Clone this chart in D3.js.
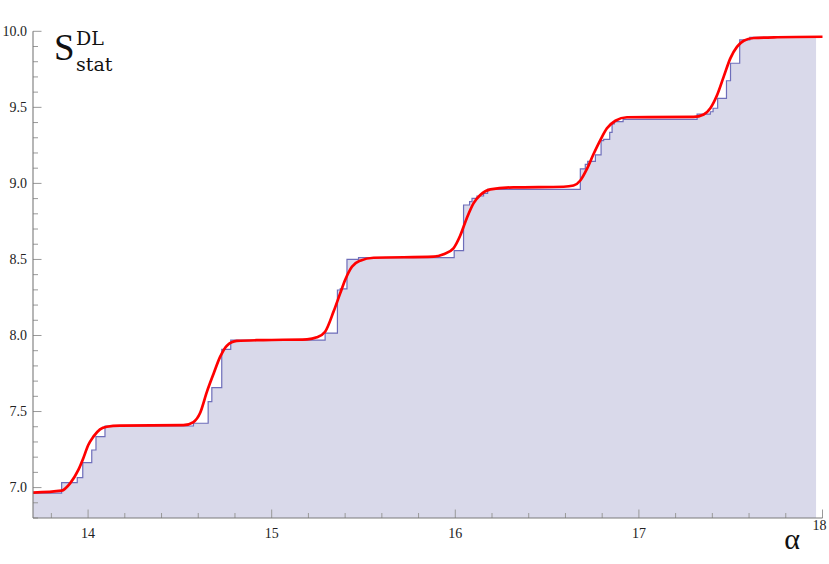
<!DOCTYPE html>
<html>
<head>
<meta charset="utf-8">
<script src="https://cdn.jsdelivr.net/npm/d3@7"></script>
<style>
  html, body { margin: 0; padding: 0; background: #ffffff; }
  svg { display: block; }
</style>
</head>
<body>
<svg id="chart" width="829" height="564"></svg>
<script>
// ---- Data ----
// Step function (stepped, filled): value holds from this alpha onward
const stepAlpha = [13.700, 13.856, 13.941, 13.971, 14.020, 14.043, 14.092, 14.574, 14.654, 14.674,
                   14.728, 14.777, 15.291, 15.358, 15.373, 15.410, 15.473, 15.994, 16.045, 16.078,
                   16.091, 16.118, 16.154, 16.176, 16.681, 16.708, 16.721, 16.763, 16.794, 16.808,
                   16.841, 16.854, 16.866, 16.914, 17.317, 17.389, 17.404, 17.429, 17.477, 17.499,
                   17.549, 17.604, 17.965];
const stepS     = [6.963, 7.032, 7.065, 7.164, 7.247, 7.335, 7.405, 7.423, 7.565, 7.657,
                   7.909, 7.970, 8.016, 8.299, 8.306, 8.501, 8.512, 8.558, 8.858, 8.880,
                   8.902, 8.917, 8.935, 8.961, 9.096, 9.125, 9.145, 9.187, 9.281, 9.290,
                   9.336, 9.391, 9.406, 9.421, 9.456, 9.471, 9.494, 9.559, 9.675, 9.790,
                   9.943, 9.961, 9.961];

// Smooth red curve
const curveAlpha = [13.700, 13.856, 13.902, 13.947, 13.974, 14.001, 14.029, 14.065, 14.102, 14.174,
                    14.519, 14.574, 14.610, 14.647, 14.683, 14.719, 14.756, 14.810, 14.955, 15.192,
                    15.246, 15.291, 15.337, 15.373, 15.400, 15.437, 15.482, 15.555, 15.882, 15.936,
                    15.990, 16.027, 16.063, 16.099, 16.136, 16.191, 16.317, 16.590, 16.644, 16.681,
                    16.717, 16.753, 16.790, 16.826, 16.872, 16.935, 17.298, 17.353, 17.389, 17.426,
                    17.462, 17.498, 17.535, 17.571, 17.625, 17.753, 18.000];
const curveS     = [6.967, 6.980, 7.028, 7.116, 7.193, 7.280, 7.335, 7.383, 7.400, 7.407,
                    7.410, 7.431, 7.490, 7.629, 7.747, 7.859, 7.933, 7.964, 7.970, 7.975,
                    7.988, 8.025, 8.157, 8.277, 8.365, 8.452, 8.492, 8.511, 8.518, 8.534,
                    8.573, 8.657, 8.773, 8.869, 8.924, 8.961, 8.974, 8.978, 8.986, 9.019,
                    9.095, 9.193, 9.285, 9.362, 9.412, 9.435, 9.437, 9.453, 9.494, 9.581,
                    9.702, 9.822, 9.899, 9.938, 9.956, 9.961, 9.964];

const xMajorTicks = [14, 15, 16, 17, 18];
const xMinorTicks = [13.8, 14.2, 14.4, 14.6, 14.8, 15.2, 15.4, 15.6, 15.8, 16.2, 16.4, 16.6, 16.8,
                     17.2, 17.4, 17.6, 17.8];
const yMajorTicks = [7.0, 7.5, 8.0, 8.5, 9.0, 9.5, 10.0];
const yMinorTicks = [6.8, 6.9, 7.1, 7.2, 7.3, 7.4, 7.6, 7.7, 7.8, 7.9, 8.1, 8.2, 8.3, 8.4,
                     8.6, 8.7, 8.8, 8.9, 9.1, 9.2, 9.3, 9.4, 9.6, 9.7, 9.8, 9.9];

// ---- Layout ----
const svg = d3.select("#chart");
const x = d3.scaleLinear().domain([13.7, 18]).range([33, 822.5]);
const y = d3.scaleLinear().domain([6.8, 10]).range([518, 31.3]);

const stepData = stepAlpha.map((a, i) => ({a, s: stepS[i]}));
const curveData = curveAlpha.map((a, i) => ({a, s: curveS[i]}));

// Filled step area
svg.append("path")
  .datum(stepData)
  .attr("fill", "#d9d9ea")
  .attr("stroke", "none")
  .attr("d", d3.area().curve(d3.curveStepAfter)
    .x(d => x(d.a)).y0(y(6.8)).y1(d => y(d.s)));

// Axis ticks (drawn over fill, inward)
const axisColor = "#7a7a7a";
const tickColor = "#999999";
const g = svg.append("g");

g.selectAll(".xmaj").data(xMajorTicks).enter().append("line")
  .attr("x1", d => x(d)).attr("x2", d => x(d))
  .attr("y1", y(6.8)).attr("y2", y(6.8) - 8.5)
  .attr("stroke", tickColor).attr("stroke-width", 1);
g.selectAll(".xmin").data(xMinorTicks).enter().append("line")
  .attr("x1", d => x(d)).attr("x2", d => x(d))
  .attr("y1", y(6.8)).attr("y2", y(6.8) - 5)
  .attr("stroke", tickColor).attr("stroke-width", 1);
g.selectAll(".ymaj").data(yMajorTicks).enter().append("line")
  .attr("x1", x(13.7)).attr("x2", x(13.7) + 8.5)
  .attr("y1", d => y(d)).attr("y2", d => y(d))
  .attr("stroke", tickColor).attr("stroke-width", 1);
g.selectAll(".ymin").data(yMinorTicks).enter().append("line")
  .attr("x1", x(13.7)).attr("x2", x(13.7) + 5)
  .attr("y1", d => y(d)).attr("y2", d => y(d))
  .attr("stroke", tickColor).attr("stroke-width", 1);

// Step line
svg.append("path")
  .datum(stepData)
  .attr("fill", "none")
  .attr("stroke", "#6e6eba")
  .attr("stroke-width", 1.2)
  .attr("d", d3.line().curve(d3.curveStepAfter).x(d => x(d.a)).y(d => y(d.s)));

// Red smooth curve
svg.append("path")
  .datum(curveData)
  .attr("fill", "none")
  .attr("stroke", "#ff0000")
  .attr("stroke-width", 2.7)
  .attr("stroke-linejoin", "round")
  .attr("d", d3.line().curve(d3.curveMonotoneX).x(d => x(d.a)).y(d => y(d.s)));

// Axis lines
svg.append("line").attr("x1", x(13.7)).attr("x2", x(18)).attr("y1", y(6.8)).attr("y2", y(6.8))
  .attr("stroke", axisColor).attr("stroke-width", 1.1);
svg.append("line").attr("x1", x(13.7)).attr("x2", x(13.7)).attr("y1", y(6.8)).attr("y2", y(10))
  .attr("stroke", axisColor).attr("stroke-width", 1.1);

// Tick labels
const serif = "'Liberation Serif', 'Times New Roman', serif";
svg.selectAll(".xl").data(xMajorTicks).enter().append("text")
  .attr("x", d => d === 18 ? x(d) - 3 : x(d))
  .attr("y", d => d === 18 ? 530 : 538)
  .attr("text-anchor", "middle")
  .attr("font-family", serif).attr("font-size", 14).attr("fill", "#222")
  .text(d => d3.format("d")(d));
svg.selectAll(".yl").data(yMajorTicks).enter().append("text")
  .attr("x", 27)
  .attr("y", d => y(d) + 4.5)
  .attr("text-anchor", "end")
  .attr("font-family", serif).attr("font-size", 14).attr("fill", "#222")
  .text(d => d3.format(".1f")(d));

// Axis labels
svg.append("text").attr("x", 792).attr("y", 549).attr("text-anchor", "middle")
  .attr("font-family", serif).attr("font-size", 30).attr("fill", "#111")
  .text("α");

const yl = svg.append("g").attr("fill", "#111");
yl.append("text").attr("x", 54).attr("y", 60).attr("font-family", serif).attr("font-size", 37).text("S");
yl.append("text").attr("x", 76).attr("y", 45).attr("font-family", "'DejaVu Serif', serif")
  .attr("font-size", 19).text("DL");
yl.append("text").attr("x", 76).attr("y", 71).attr("font-family", "'DejaVu Serif', serif")
  .attr("font-size", 19).text("stat");
</script>
</body>
</html>
